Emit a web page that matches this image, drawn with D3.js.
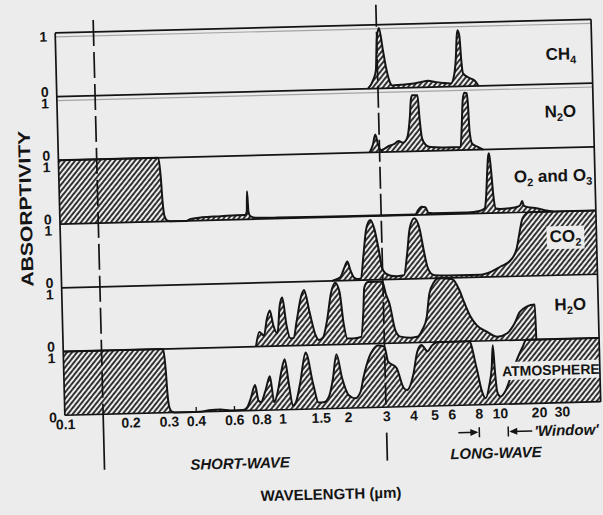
<!DOCTYPE html>
<html>
<head>
<meta charset="utf-8">
<script src="https://cdn.jsdelivr.net/npm/d3@7"></script>
<style>
  body { margin: 0; background: #ececec; }
  svg { display: block; font-family: "Liberation Sans", Arial, sans-serif; font-weight: bold; }
</style>
</head>
<body>
<svg id="chart" width="603" height="515"></svg>
<script>
// absorptivity (0..1) against wavelength in micrometres
var panels = ["CH4", "N2O", "O2O3", "CO2", "H2O", "ATM"];

var ch4 = [[2.7,0],[2.87,0.15],[2.95,0.29],[3.0,0.77],[3.08,0.95],[3.19,0.61],[3.28,0.34],[3.39,0.12],[3.5,0.04],
  [3.8,0.05],[4.3,0.06],[4.8,0.09],[5.1,0.1],[5.5,0.08],[6.0,0.06],[6.5,0.05],[6.75,0.19],[6.9,0.46],[7.0,0.79],
  [7.07,0.88],[7.2,0.79],[7.3,0.41],[7.4,0.21],[7.8,0.14],[8.4,0.08],[8.7,0]];

var n2o = [[2.7,0],[2.8,0.12],[2.88,0.28],[2.96,0.12],[3.04,0.03],[3.15,0.05],[3.3,0.09],[3.5,0.12],[3.68,0.17],
  [3.85,0.14],[4.03,0.21],[4.17,0.53],[4.24,0.82],[4.3,0.88],[4.55,0.88],[4.62,0.52],[4.72,0.2],[4.89,0.1],
  [5.15,0.06],[6.0,0.05],[7.08,0.05],[7.2,0.35],[7.33,0.78],[7.47,0.9],[7.66,0.89],[7.74,0.72],[7.82,0.29],
  [8.0,0.1],[8.45,0.05],[9.0,0]];

var o2o3 = [[0.1,1],[0.288,1],[0.294,0.7],[0.298,0.3],[0.303,0.08],[0.312,0.01],[0.32,0],[0.38,0],[0.4,0.03],
  [0.45,0.05],[0.55,0.06],[0.65,0.07],[0.71,0.07],[0.724,0.12],[0.73,0.44],[0.737,0.12],[0.75,0.05],[0.8,0.02],
  [1.0,0.015],[2.0,0.01],[4.3,0.01],[4.45,0.08],[4.6,0.13],[4.8,0.12],[4.95,0.03],[5.2,0.02],[7.5,0.02],
  [8.5,0.04],[9.0,0.08],[9.15,0.25],[9.3,0.6],[9.45,0.89],[9.55,0.94],[9.7,0.7],[9.9,0.25],[10.2,0.07],
  [11,0.06],[13,0.07],[15,0.09],[15.8,0.12],[16.3,0.18],[16.8,0.1],[18,0.08],[21,0.06],[25,0.02],[28,0]];

var co2 = [[1.75,0],[1.92,0.06],[2.0,0.2],[2.07,0.3],[2.14,0.15],[2.22,0.04],[2.3,0.02],[2.38,0.03],[2.46,0.39],
  [2.55,0.8],[2.67,0.94],[2.78,0.8],[2.89,0.49],[2.99,0.18],[3.09,0.1],[3.27,0.06],[3.5,0.05],[3.76,0.06],
  [3.9,0.37],[4.04,0.79],[4.26,0.95],[4.49,0.78],[4.65,0.47],[4.83,0.18],[5.0,0.08],[5.2,0.05],[6.0,0.04],
  [8.5,0.04],[9.1,0.06],[10.8,0.16],[12.9,0.25],[14.5,0.44],[15.4,0.7],[16.3,0.91],[18.4,1],[60,1]];

var h2o = [[0.77,0],[0.8,0.23],[0.84,0.17],[0.87,0.43],[0.9,0.56],[0.93,0.33],[0.97,0.2],[1.0,0.63],[1.03,0.76],
  [1.07,0.32],[1.11,0.12],[1.15,0.12],[1.19,0.37],[1.26,0.78],[1.3,0.87],[1.37,0.52],[1.45,0.16],[1.5,0.08],
  [1.57,0.12],[1.64,0.36],[1.73,0.82],[1.81,0.97],[1.89,0.83],[1.96,0.32],[2.03,0.09],[2.15,0.09],[2.35,0.11],
  [2.42,0.5],[2.46,0.88],[2.55,0.97],[2.98,0.97],[3.09,0.77],[3.2,0.62],[3.38,0.2],[3.56,0.1],[4.0,0.08],
  [4.26,0.09],[4.5,0.2],[4.73,0.4],[4.89,0.76],[5.15,0.94],[5.4,1.0],[6.27,0.98],[6.7,0.82],[7.06,0.61],
  [7.48,0.4],[8.0,0.25],[8.93,0.14],[9.93,0.06],[11.8,0.11],[13.3,0.24],[14.9,0.44],[16.8,0.52],[19.5,0.55],
  [19.7,0]];

var atm = [[0.1,1],[0.288,1],[0.294,0.7],[0.298,0.3],[0.303,0.08],[0.312,0.01],[0.32,0],[0.42,0],[0.46,0.02],
  [0.52,0.03],[0.58,0.01],[0.66,0.01],[0.69,0.05],[0.72,0.2],[0.755,0.4],[0.78,0.15],[0.8,0.13],[0.84,0.3],
  [0.885,0.53],[0.92,0.12],[0.96,0.3],[1.0,0.6],[1.04,0.79],[1.08,0.4],[1.12,0.06],[1.16,0.12],[1.22,0.43],
  [1.3,0.89],[1.4,0.37],[1.47,0.1],[1.55,0.1],[1.65,0.2],[1.72,0.45],[1.8,0.85],[1.9,0.47],[2.03,0.2],
  [2.17,0.15],[2.3,0.25],[2.38,0.47],[2.55,0.8],[2.65,0.9],[2.8,0.97],[3.0,0.95],[3.1,0.72],[3.39,0.61],
  [3.64,0.29],[3.77,0.26],[4.04,0.5],[4.24,0.86],[4.44,0.96],[4.72,0.86],[4.97,0.95],[5.3,1.0],[7.36,1.0],
  [7.9,0.58],[8.33,0.2],[8.63,0.1],[9.0,0.3],[9.28,0.58],[9.44,0.93],[9.6,0.5],[9.77,0.2],[10.2,0.12],
  [11.1,0.2],[12.5,0.46],[14.1,0.73],[15.4,0.89],[16.5,1],[60,1]];

var series = [ch4, n2o, o2o3, co2, h2o, atm];

// label pieces: [text, isSubscript]
var panelLabels = [
  [["CH",0],["4",1]],
  [["N",0],["2",1],["O",0]],
  [["O",0],["2",1],[" and O",0],["3",1]],
  [["CO",0],["2",1]],
  [["H",0],["2",1],["O",0]],
  [["ATMOSPHERE",0]]
];

var tickValues = [0.1, 0.2, 0.3, 0.4, 0.6, 0.8, 1, 1.5, 2, 3, 4, 5, 6, 8, 10, 20, 30];
var tickLabels = ["0.1", "0.2", "0.3", "0.4", "0.6", "0.8", "1", "1.5", "2", "3", "4", "5", "6", "8", "10", "20", "30"];
var dividers = [0.15, 3];        // short-wave / long-wave markers
var windowEdges = [8, 11.5];     // atmospheric window

var plot = {left: 60, right: 596, top: 26, bottom: 408.5};
var labelX = [565, 563, 554, 565, 568, 547];
var labelPos = [0.62, 0.52, 0.53, 0.48, 0.55, 0.56];
var ink = "#141414";

var svg = d3.select("#chart");
var defs = svg.append("defs");

var hatch = defs.append("pattern")
  .attr("id", "hatch")
  .attr("patternUnits", "userSpaceOnUse")
  .attr("width", 3.9).attr("height", 10)
  .attr("patternTransform", "rotate(40)");
hatch.append("rect").attr("width", 3.9).attr("height", 10).attr("fill", "#ececec");
hatch.append("line")
  .attr("x1", 1.95).attr("x2", 1.95).attr("y1", 0).attr("y2", 10)
  .attr("stroke", "#161616").attr("stroke-width", 1.7);

// the scanned page is slightly tilted
var g = svg.append("g").attr("transform", "rotate(-1.45, 330, 220)");

var x = d3.scaleLog().domain([0.1, 10, 60]).range([plot.left, 495, plot.right]);
var band = d3.scaleBand().domain(panels).range([plot.top, plot.bottom]);

// ticks under the hatching
g.append("g")
  .attr("transform", `translate(0, ${plot.bottom})`)
  .call(d3.axisBottom(x).tickValues(tickValues)
    .tickFormat(function(d, i) { return tickLabels[i]; })
    .tickSizeInner(-5).tickSizeOuter(0).tickPadding(4))
  .call(function(a) {
    a.select(".domain").remove();
    a.selectAll("line").attr("stroke", ink).attr("stroke-width", 1.3);
    a.selectAll("text").attr("font-size", 14).attr("fill", ink)
      .attr("font-family", null).attr("font-weight", "bold");
  });

// faint shadow lines of the scan
g.selectAll(".ghost")
  .data(panels.slice(0, 2))
  .enter().append("line")
  .attr("x1", plot.left).attr("x2", plot.right)
  .attr("y1", function(p) { return band(p) + 4; }).attr("y2", function(p) { return band(p) + 4; })
  .attr("stroke", "#a4a4a4").attr("stroke-width", 1.1);

panels.forEach(function(p, i) {
  var y = d3.scaleLinear().domain([0, 1]).range([band(p) + band.bandwidth(), band(p)]);
  var area = d3.area()
    .x(function(d) { return x(d[0]); })
    .y0(y(0))
    .y1(function(d) { return y(d[1]); })
    .curve(d3.curveMonotoneX);
  var line = d3.line()
    .x(function(d) { return x(d[0]); })
    .y(function(d) { return y(d[1]); })
    .curve(d3.curveMonotoneX);

  g.append("path").attr("d", area(series[i])).attr("fill", "url(#hatch)");
  g.append("path").attr("d", line(series[i]))
    .attr("fill", "none").attr("stroke", ink).attr("stroke-width", 2);

  // 0 / 1 scale marks
  g.append("text").attr("x", 48).attr("y", y(1) + (i === 0 ? 3.5 : 6.5)).attr("dy", ".35em")
    .attr("text-anchor", "middle").attr("font-size", 14).attr("fill", ink).text("1");
  g.append("text").attr("x", 48).attr("y", y(0) + (i === panels.length - 1 ? 2 : -5)).attr("dy", ".35em")
    .attr("text-anchor", "middle").attr("font-size", 14).attr("fill", ink).text("0");

  // gas label
  var lab = g.append("text")
    .attr("x", labelX[i])
    .attr("y", band(p) + band.bandwidth() * labelPos[i])
    .attr("dy", ".35em")
    .attr("text-anchor", "middle")
    .attr("font-size", i === 5 ? 14 : 17)
    .attr("fill", ink);
  var shift = 0;
  panelLabels[i].forEach(function(part) {
    var dy = part[1] ? 4 - shift : -shift;
    shift = part[1] ? 4 : 0;
    lab.append("tspan").attr("dy", dy).attr("font-size", part[1] ? 11 : null).text(part[0]);
  });
  if (p === "CO2" || p === "ATM") {
    var bb = lab.node().getBBox();
    g.insert("rect", function() { return lab.node(); })
      .attr("x", bb.x - 3).attr("y", bb.y - 1)
      .attr("width", bb.width + 6).attr("height", bb.height + 2)
      .attr("fill", "#ececec");
  }
});

// panel frame
g.selectAll(".hline")
  .data(panels.map(function(p) { return band(p); }).concat([plot.bottom]))
  .enter().append("line")
  .attr("x1", plot.left).attr("x2", plot.right)
  .attr("y1", function(d) { return d; }).attr("y2", function(d) { return d; })
  .attr("stroke", ink).attr("stroke-width", 1.7);
g.selectAll(".vline")
  .data([plot.left, plot.right])
  .enter().append("line")
  .attr("x1", function(d) { return d; }).attr("x2", function(d) { return d; })
  .attr("y1", plot.top).attr("y2", plot.bottom)
  .attr("stroke", ink).attr("stroke-width", 1.7);

// short-wave / long-wave dividers
dividers.forEach(function(w, i) {
  var xx = x(w);
  g.append("line").attr("x1", xx).attr("x2", xx)
    .attr("y1", i === 0 ? 14 : 6).attr("y2", plot.bottom)
    .attr("stroke", ink).attr("stroke-width", 1.7)
    .style("stroke-dasharray", i === 0 ? "26, 6" : "22, 5");
  g.append("line").attr("x1", xx).attr("x2", xx)
    .attr("y1", i === 0 ? plot.bottom : 434).attr("y2", i === 0 ? 464 : 462)
    .attr("stroke", ink).attr("stroke-width", 1.7);
});

// 'Window' arrows
var wy = 436;
var w0 = x(windowEdges[0]), w1 = x(windowEdges[1]);
g.append("path").attr("d", `M${w0 - 21},${wy}H${w0 - 3}M${w0},${wy - 5}V${wy + 5}M${w1},${wy - 5}V${wy + 5}M${w1 + 3},${wy}H${w1 + 24}`)
  .attr("stroke", ink).attr("stroke-width", 1.5).attr("fill", "none");
g.append("path").attr("d", `M${w0 - 1},${wy}l-8,-3.5v7z M${w1 + 1},${wy}l8,-3.5v7z`).attr("fill", ink);
g.append("text").attr("x", w1 + 26).attr("y", wy).attr("dy", ".35em")
  .attr("font-size", 15).attr("font-style", "italic").attr("fill", ink).text("'Window'");

// titles
g.append("text").attr("transform", "translate(26, 201) rotate(-90)")
  .attr("text-anchor", "middle").attr("dy", ".35em").attr("font-size", 17)
  .attr("textLength", 156).attr("lengthAdjust", "spacingAndGlyphs").attr("fill", ink).text("ABSORPTIVITY");
g.append("text").attr("x", 234).attr("y", 461).attr("dy", ".35em").attr("text-anchor", "middle")
  .attr("font-size", 15).attr("font-style", "italic").attr("fill", ink).text("SHORT-WAVE");
g.append("text").attr("x", 490).attr("y", 457).attr("dy", ".35em").attr("text-anchor", "middle")
  .attr("font-size", 15).attr("font-style", "italic").attr("fill", ink).text("LONG-WAVE");
g.append("text").attr("x", 324).attr("y", 494).attr("dy", ".35em").attr("text-anchor", "middle")
  .attr("font-size", 15).attr("fill", ink).text("WAVELENGTH (\u00b5m)");
</script>
</body>
</html>
